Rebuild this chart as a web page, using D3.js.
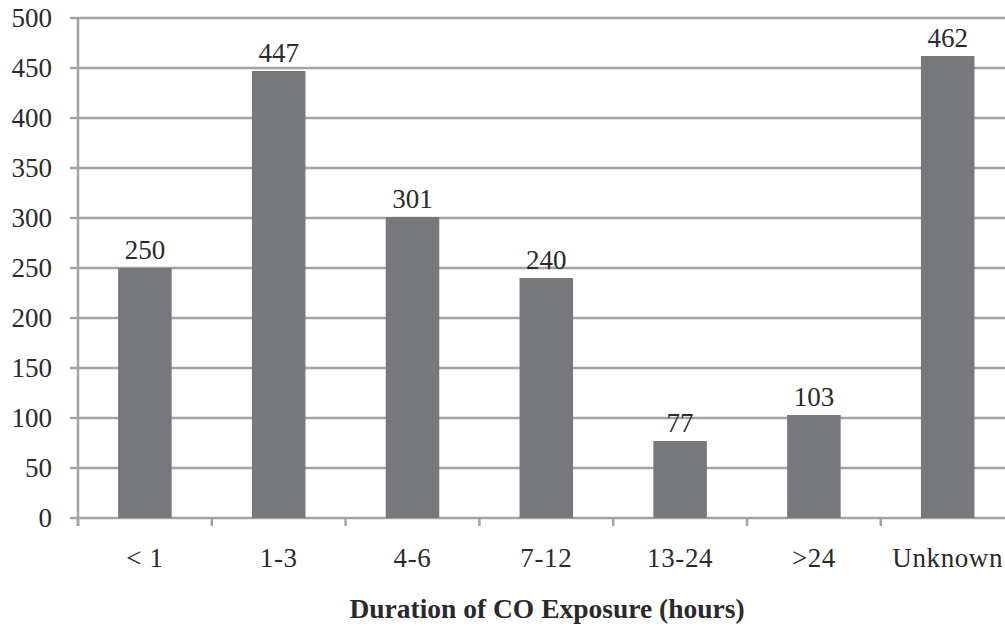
<!DOCTYPE html>
<html>
<head>
<meta charset="utf-8">
<script src="https://cdn.jsdelivr.net/npm/d3@7"></script>
<style>
  body { margin: 0; background: #fff; }
  svg { display: block; }
  text { font-family: "Liberation Serif", serif; fill: #2a2a2a; }
</style>
</head>
<body>
<svg id="chart" width="1005" height="627"></svg>
<script>
const categories = ["< 1", "1-3", "4-6", "7-12", "13-24", ">24", "Unknown"];
const values = [250, 447, 301, 240, 77, 103, 462];
const yTicks = [0, 50, 100, 150, 200, 250, 300, 350, 400, 450, 500];
const xTitle = "Duration of CO Exposure (hours)";

const svg = d3.select("#chart");
const plotLeft = 78, plotTop = 18, plotBottom = 518;
const step = 133.8;

const x = d3.scaleBand()
  .domain(categories)
  .range([plotLeft, plotLeft + step * categories.length])
  .padding(0);

const y = d3.scaleLinear().domain([0, 500]).range([plotBottom, plotTop]);

const gridColor = "#a3a3a7";

// gridlines + y tick marks
svg.append("g")
  .selectAll("line")
  .data(yTicks)
  .join("line")
  .attr("x1", plotLeft - 8)
  .attr("x2", 1005)
  .attr("y1", d => y(d))
  .attr("y2", d => y(d))
  .attr("stroke", gridColor)
  .attr("stroke-width", 2.5);

// y labels
svg.append("g")
  .selectAll("text")
  .data(yTicks)
  .join("text")
  .attr("x", 52)
  .attr("y", d => y(d))
  .attr("dy", "0.35em")
  .attr("text-anchor", "end")
  .attr("font-size", 27)
  .text(d => d);

// y axis line
svg.append("line")
  .attr("x1", plotLeft).attr("x2", plotLeft)
  .attr("y1", plotTop).attr("y2", plotBottom + 8)
  .attr("stroke", gridColor)
  .attr("stroke-width", 2.5);

// x tick marks at band boundaries
svg.append("g")
  .selectAll("line")
  .data(categories)
  .join("line")
  .attr("x1", d => x(d))
  .attr("x2", d => x(d))
  .attr("y1", plotBottom)
  .attr("y2", plotBottom + 8)
  .attr("stroke", gridColor)
  .attr("stroke-width", 2.5);

// bars
const barW = x.bandwidth() * 0.4;
svg.append("g")
  .selectAll("rect")
  .data(values)
  .join("rect")
  .attr("x", (d, i) => x(categories[i]) + (x.bandwidth() - barW) / 2)
  .attr("y", d => y(d))
  .attr("width", barW)
  .attr("height", d => y(0) - y(d))
  .attr("fill", "#77787c");

// value labels
svg.append("g")
  .selectAll("text")
  .data(values)
  .join("text")
  .attr("x", (d, i) => x(categories[i]) + x.bandwidth() / 2)
  .attr("y", d => y(d) - 9)
  .attr("text-anchor", "middle")
  .attr("font-size", 27)
  .attr("fill", "#444")
  .text(d => d);

// x labels
svg.append("g")
  .selectAll("text")
  .data(categories)
  .join("text")
  .attr("x", d => x(d) + x.bandwidth() / 2)
  .attr("y", 567)
  .attr("text-anchor", "middle")
  .attr("font-size", 27)
  .attr("letter-spacing", 0.6)
  .text(d => d);

// x title
svg.append("text")
  .attr("x", 547)
  .attr("y", 618)
  .attr("text-anchor", "middle")
  .attr("font-size", 27.5)
  .attr("font-weight", "bold")
  .text(xTitle);
</script>
</body>
</html>
